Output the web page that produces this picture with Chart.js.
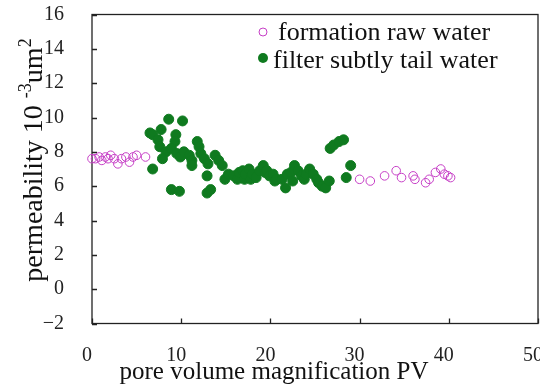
<!DOCTYPE html>
<html>
<head>
<meta charset="utf-8">
<script src="https://cdn.jsdelivr.net/npm/chart.js@4.4.0/dist/chart.umd.min.js"></script>
<style>
html, body { margin: 0; padding: 0; background: #fff; }
#wrap { width: 540px; height: 385px; position: relative; }
</style>
</head>
<body>
<div id="wrap"><canvas id="permChart"></canvas></div>
<script>
// formation raw water (open circles)
var rawX = [0.0, 0.4, 0.8, 1.1, 1.5, 1.8, 2.1, 2.5, 2.9, 3.3, 3.8, 4.2, 4.6, 5.0, 6.0,
            30.0, 31.2, 32.8, 34.1, 34.7, 36.0, 36.2, 37.4, 37.8, 38.5, 39.1, 39.5, 39.9, 40.2];
var rawY = [7.6, 7.6, 7.7, 7.5, 7.7, 7.6, 7.8, 7.6, 7.3, 7.6, 7.7, 7.4, 7.7, 7.8, 7.7,
            6.4, 6.3, 6.6, 6.9, 6.5, 6.6, 6.4, 6.2, 6.4, 6.8, 7.0, 6.7, 6.6, 6.5];

// filter subtly tail water (filled dots)
var tailX = [6.5, 6.8, 7.75, 7.4, 7.6, 6.8, 8.6, 10.15, 9.4, 9.3, 8.3, 7.9,
             8.9, 9.5, 9.9, 10.3, 10.9, 11.2, 11.2, 11.8, 12.0, 12.2, 12.6, 13.0,
             12.9, 8.9, 9.8, 12.9, 13.3, 13.8, 14.2, 14.6, 14.9, 15.3, 15.9, 16.3,
             16.5, 16.9, 17.1, 17.2, 17.6, 17.8, 18.0, 18.4, 18.8, 19.2, 19.4, 19.6,
             19.9, 20.3, 20.5, 20.7, 21.3, 21.7, 21.9, 22.3, 22.5, 22.7, 23.1, 23.5,
             23.8, 24.0, 24.4, 24.8, 25.2, 25.4, 25.8, 26.2, 26.6, 26.7, 27.1, 27.7,
             28.2, 28.5, 29.0];
var tailY = [9.1, 9.0, 9.3, 8.7, 8.3, 7.0, 9.9, 9.8, 9.0, 8.6, 8.0, 7.6,
             8.2, 7.9, 7.7, 8.0, 7.8, 7.5, 7.2, 8.6, 8.3, 7.9, 7.6, 7.3,
             6.6, 5.8, 5.7, 5.6, 5.8, 7.8, 7.5, 7.2, 6.4, 6.7, 6.6, 6.4,
             6.8, 6.9, 6.4, 6.7, 7.0, 6.4, 6.7, 6.5, 6.9, 7.2, 6.8, 6.9,
             6.6, 6.7, 6.3, 6.4, 6.4, 5.9, 6.7, 6.8, 6.3, 7.2, 6.9, 6.6,
             6.4, 6.7, 7.0, 6.7, 6.4, 6.2, 6.0, 5.9, 6.3, 8.2, 8.4, 8.6,
             8.7, 6.5, 7.2];

var xTicks = [0, 10, 20, 30, 40, 50];
var yTicks = [-2, 0, 2, 4, 6, 8, 10, 12, 14, 16];

var seriesNames = ['formation raw water', 'filter subtly tail water'];
var xTitle = 'pore volume magnification PV';

var serif = '"Liberation Serif", "Times New Roman", serif';
var magenta = '#c63fc6';
var green = '#0f7a1f';

function toPoints(xs, ys) {
    return xs.map(function (x, i) { return { x: x, y: ys[i] }; });
}

// box around the plot + inward tick marks, titles and legend
var framePlugin = {
    id: 'frame',
    beforeDatasetsDraw: function (chart) {
        var ctx = chart.ctx, a = chart.chartArea;
        var xs = chart.scales.x, ys = chart.scales.y;
        ctx.save();
        ctx.strokeStyle = '#222';
        ctx.lineWidth = 1.3;
        ctx.strokeRect(a.left, a.top, a.right - a.left, a.bottom - a.top);
        ctx.beginPath();
        yTicks.forEach(function (v) {
            var py = Math.round(ys.getPixelForValue(v)) + 0.5;
            ctx.moveTo(a.left, py);
            ctx.lineTo(a.left + 5, py);
        });
        xTicks.forEach(function (v) {
            var px = Math.round(xs.getPixelForValue(v)) + 0.5;
            ctx.moveTo(px, a.bottom);
            ctx.lineTo(px, a.bottom - 5);
        });
        ctx.stroke();
        ctx.restore();
    },
    afterDraw: function (chart) {
        var ctx = chart.ctx;
        ctx.save();
        ctx.fillStyle = '#111';

        // x axis title
        ctx.font = '25px ' + serif;
        ctx.textAlign = 'center';
        ctx.textBaseline = 'alphabetic';
        ctx.fillText(xTitle, 274, 379);

        // y axis title with superscripts, rotated
        var parts = [
            { t: 'permeability 10 ', size: 28, rise: 0 },
            { t: '-3', size: 18, rise: 11 },
            { t: 'um', size: 28, rise: 0 },
            { t: '2', size: 18, rise: 11 }
        ];
        var total = 0;
        parts.forEach(function (p) {
            ctx.font = p.size + 'px ' + serif;
            p.w = ctx.measureText(p.t).width;
            total += p.w;
        });
        ctx.translate(42, 160);
        ctx.rotate(-Math.PI / 2);
        ctx.textAlign = 'left';
        var cx = -total / 2;
        parts.forEach(function (p) {
            ctx.font = p.size + 'px ' + serif;
            ctx.fillText(p.t, cx, -p.rise);
            cx += p.w;
        });
        ctx.restore();

        // legend inside the plot
        ctx.save();
        ctx.font = '26px ' + serif;
        ctx.textAlign = 'left';
        ctx.textBaseline = 'alphabetic';
        ctx.fillStyle = '#111';
        ctx.beginPath();
        ctx.arc(263, 32, 4, 0, Math.PI * 2);
        ctx.strokeStyle = magenta;
        ctx.lineWidth = 1;
        ctx.stroke();
        ctx.fillText(chart.data.datasets[0].label, 278, 40);
        ctx.beginPath();
        ctx.arc(263, 58, 5, 0, Math.PI * 2);
        ctx.fillStyle = green;
        ctx.fill();
        ctx.fillStyle = '#111';
        ctx.fillText(chart.data.datasets[1].label, 273, 68);
        ctx.restore();
    }
};

new Chart(document.getElementById('permChart'), {
    type: 'scatter',
    data: {
        datasets: [{
            label: seriesNames[0],
            data: toPoints(rawX, rawY),
            pointStyle: 'circle',
            pointRadius: 4.3,
            pointBorderWidth: 1,
            borderColor: magenta,
            backgroundColor: 'rgba(0,0,0,0)',
            clip: false
        }, {
            label: seriesNames[1],
            data: toPoints(tailX, tailY),
            pointStyle: 'circle',
            pointRadius: 5,
            pointBorderWidth: 1,
            borderColor: green,
            backgroundColor: green,
            clip: false
        }]
    },
    options: {
        responsive: true,
        maintainAspectRatio: false,
        animation: false,
        layout: { autoPadding: false, padding: { left: 0, right: 2, top: 14.5, bottom: 0 } },
        plugins: {
            legend: { display: false },
            tooltip: { enabled: false }
        },
        scales: {
            x: {
                type: 'linear',
                min: xTicks[0],
                max: xTicks[xTicks.length - 1],
                afterBuildTicks: function (s) { s.ticks = xTicks.map(function (v) { return { value: v }; }); },
                afterFit: function (s) { s.height = 61.5; s.paddingLeft = 0; s.paddingRight = 0; },
                grid: { display: false, drawTicks: false },
                border: { display: false },
                ticks: { padding: 20, labelOffset: -5, color: '#222', font: { family: serif, size: 20 }, maxRotation: 0 }
            },
            y: {
                type: 'linear',
                min: yTicks[0],
                max: yTicks[yTicks.length - 1],
                afterBuildTicks: function (s) { s.ticks = yTicks.map(function (v) { return { value: v }; }); },
                afterFit: function (s) { s.width = 92; s.paddingTop = 0; s.paddingBottom = 0; },
                grid: { display: false, drawTicks: false },
                border: { display: false },
                ticks: {
                    padding: 28, color: '#222', font: { family: serif, size: 20 },
                    callback: function (v) { return v < 0 ? '\u2212' + Math.abs(v) : String(v); }
                }
            }
        }
    },
    plugins: [framePlugin]
});
</script>
</body>
</html>
